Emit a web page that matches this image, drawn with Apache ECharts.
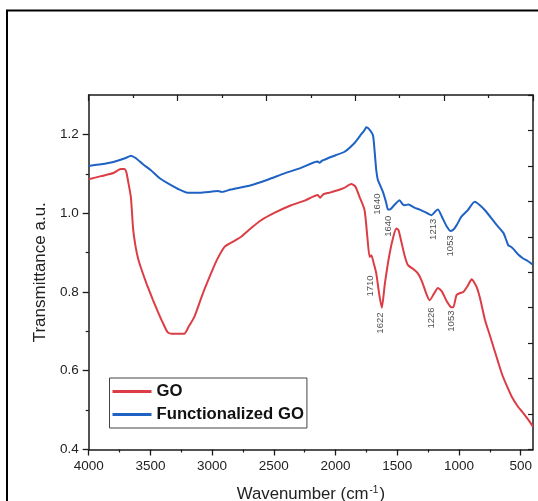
<!DOCTYPE html>
<html>
<head>
<meta charset="utf-8">
<script src="https://cdn.jsdelivr.net/npm/echarts@6/dist/echarts.min.js"></script>
<style>
html,body{margin:0;padding:0;background:#fff;}
#c{width:538px;height:501px;}
</style>
</head>
<body>
<div id="c"></div>
<script>
// ---- data ----
const goWavenumber = [4000,3900,3800,3740,3712,3695,3680,3658,3640,3620,3600,3570,3530,3480,3440,3400,3361,3330,3226,3190,3145,3080,3009,2960,2901,2830,2765,2700,2603,2500,2360,2250,2144,2125,2100,2050,1981,1930,1873,1840,1805,1765,1740,1724,1710,1690,1670,1645,1625,1600,1562,1530,1507,1490,1470,1440,1413,1370,1333,1300,1260,1237,1200,1170,1140,1100,1067,1046,1020,993,965,930,897,857,830,789,755,721,653,610,572,520,477,430,400];
const goValues     = [1.086,1.094,1.102,1.112,1.112,1.104,1.080,1.040,0.960,0.915,0.885,0.855,0.820,0.780,0.750,0.722,0.698,0.694,0.694,0.712,0.736,0.792,0.847,0.882,0.914,0.928,0.940,0.958,0.982,1.000,1.020,1.032,1.046,1.039,1.048,1.052,1.058,1.064,1.074,1.068,1.041,1.008,0.932,0.889,0.893,0.872,0.847,0.792,0.760,0.822,0.897,0.942,0.961,0.957,0.932,0.892,0.868,0.858,0.847,0.827,0.792,0.779,0.797,0.810,0.802,0.777,0.762,0.761,0.792,0.797,0.800,0.815,0.832,0.813,0.785,0.729,0.695,0.661,0.593,0.560,0.534,0.508,0.492,0.472,0.458];

const fgoWavenumber = [4000,3900,3800,3700,3658,3620,3560,3496,3430,3361,3280,3199,3100,3000,2955,2920,2850,2685,2550,2414,2280,2144,2130,2110,2000,1927,1850,1800,1765,1751,1730,1697,1684,1670,1657,1640,1616,1590,1575,1555,1520,1481,1460,1440,1410,1360,1318,1270,1223,1190,1170,1140,1100,1067,1040,1020,980,930,872,830,777,700,640,615,600,585,561,520,480,440,405];
const fgoValues     = [1.120,1.124,1.130,1.140,1.146,1.140,1.124,1.109,1.090,1.076,1.062,1.052,1.052,1.055,1.056,1.054,1.060,1.071,1.085,1.101,1.115,1.131,1.128,1.133,1.147,1.156,1.177,1.197,1.211,1.218,1.214,1.198,1.160,1.109,1.084,1.072,1.054,1.027,1.009,1.010,1.022,1.033,1.024,1.020,1.022,1.014,1.009,1.002,0.995,1.005,1.009,0.992,0.967,0.955,0.960,0.969,0.991,1.007,1.029,1.020,1.003,0.972,0.950,0.930,0.918,0.916,0.910,0.895,0.885,0.878,0.870];

const annotationText = ['1640','1640','1213','1053','1710','1622','1226','1053'];
const annotationWavenumber = [1664,1569,1208,1067,1718,1637,1224,1059];
const annotationValue = [1.023,0.967,0.959,0.917,0.815,0.721,0.734,0.726];

const xTickValues = [500,1000,1500,2000,2500,3000,3500,4000];
const xMinorTickValues = [750,1250,1750,2250,2750,3250,3750];
const yTickValues = [0.4,0.6,0.8,1.0,1.2];
const yMinorTickValues = [0.5,0.7,0.9,1.1];

const seriesNames = ['GO','Functionalized GO'];
const seriesColors = ['#dc3d45','#1e62c3'];

// ---- build ----
const zip = (a,b) => a.map((v,i)=>[v,b[i]]);
const FONT = '"Liberation Sans", Arial, sans-serif';
const axisColor = '#1a1a1a';

const chart = echarts.init(document.getElementById('c'), null, {renderer:'canvas'});

const option = {
  backgroundColor: '#fff',
  animation: false,
  textStyle: {fontFamily: FONT},
  graphic: [{
    type: 'rect',
    shape: {x: 7, y: 10.5, width: 700, height: 700},
    style: {fill: 'none', stroke: '#000', lineWidth: 2},
    silent: true,
    z: 100
  }],
  grid: {left: 88.7, top: 95, right: 5, bottom: 51.5, containLabel: false, outerBoundsMode: 'none'},
  legend: {
    data: seriesNames,
    orient: 'vertical',
    left: 109.5,
    top: 378,
    padding: [5, 3, 5, 3],
    itemWidth: 39,
    itemHeight: 3,
    itemGap: 6,
    icon: 'rect',
    borderColor: '#444',
    borderWidth: 1,
    backgroundColor: '#fff',
    textStyle: {fontFamily: FONT, fontSize: 16.7, fontWeight: 'bold', color: '#111', lineHeight: 16}
  },
  xAxis: [
    {
      type: 'value', min: 400, max: 4000, inverse: true, position: 'bottom',
      axisLine: {show: true, onZero: false, lineStyle: {color: axisColor, width: 1.5}},
      axisTick: {show: true, inside: false, length: 6, customValues: xTickValues, lineStyle: {color: axisColor, width: 1.3}},
      axisLabel: {show: true, customValues: xTickValues, margin: 10, fontSize: 13.5, color: '#222', fontFamily: FONT,
        formatter: v => String(Math.round(v))},
      splitLine: {show: false},
      name: 'Wavenumber (cm{sup|-1})',
      nameLocation: 'middle',
      nameGap: 36,
      nameTextStyle: {fontSize: 16.8, color: '#222', fontFamily: FONT,
        rich: {sup: {fontSize: 10, verticalAlign: 'top', color: '#222', fontFamily: FONT, padding: [0,1,0,1]}}}
    },
    {
      type: 'value', min: 400, max: 4000, inverse: true, position: 'bottom',
      axisLine: {show: false, onZero: false},
      axisTick: {show: true, inside: false, length: 3, customValues: xMinorTickValues, lineStyle: {color: axisColor, width: 1.2}},
      axisLabel: {show: false},
      splitLine: {show: false}
    },
    {
      type: 'value', min: 0, max: 10, interval: 2, position: 'top',
      axisLine: {show: true, onZero: false, lineStyle: {color: axisColor, width: 1.5}},
      axisTick: {show: true, inside: true, length: 6, lineStyle: {color: axisColor, width: 1.2}},
      minorTick: {show: true, splitNumber: 2, length: 3, lineStyle: {color: axisColor, width: 1.2}},
      axisLabel: {show: false},
      splitLine: {show: false}
    }
  ],
  yAxis: [
    {
      type: 'value', min: 0.4, max: 1.3, position: 'left',
      axisLine: {show: true, onZero: false, lineStyle: {color: axisColor, width: 1.5}},
      axisTick: {show: true, inside: false, length: 6, customValues: yTickValues, lineStyle: {color: axisColor, width: 1.3}},
      axisLabel: {show: true, customValues: yTickValues, margin: 10, fontSize: 13.5, color: '#222', fontFamily: FONT,
        formatter: v => v.toFixed(1)},
      splitLine: {show: false},
      name: 'Transmittance a.u.',
      nameLocation: 'middle',
      nameGap: 40,
      nameTextStyle: {fontSize: 17, color: '#222', fontFamily: FONT}
    },
    {
      type: 'value', min: 0.4, max: 1.3, position: 'left',
      axisLine: {show: false, onZero: false},
      axisTick: {show: true, inside: false, length: 3, customValues: yMinorTickValues, lineStyle: {color: axisColor, width: 1.2}},
      axisLabel: {show: false},
      splitLine: {show: false}
    },
    {
      type: 'value', min: 0, max: 10, interval: 1, position: 'right',
      axisLine: {show: true, onZero: false, lineStyle: {color: axisColor, width: 1.5}},
      axisTick: {show: true, inside: true, length: 5, lineStyle: {color: axisColor, width: 1.2}},
      axisLabel: {show: false},
      splitLine: {show: false}
    }
  ],
  series: [
    {
      name: seriesNames[0], type: 'line', xAxisIndex: 0, yAxisIndex: 0,
      data: zip(goWavenumber, goValues),
      showSymbol: false, symbol: 'none', smooth: 0.2,
      lineStyle: {color: seriesColors[0], width: 2},
      itemStyle: {color: seriesColors[0]},
      z: 3
    },
    {
      name: seriesNames[1], type: 'line', xAxisIndex: 0, yAxisIndex: 0,
      data: zip(fgoWavenumber, fgoValues),
      showSymbol: false, symbol: 'none', smooth: 0.2,
      lineStyle: {color: seriesColors[1], width: 2},
      itemStyle: {color: seriesColors[1]},
      z: 3
    },
    {
      name: 'annotations', type: 'scatter', xAxisIndex: 0, yAxisIndex: 0,
      silent: true,
      symbolSize: 0.1,
      itemStyle: {color: 'rgba(0,0,0,0)'},
      data: annotationText.map((t,i)=>({value:[annotationWavenumber[i], annotationValue[i]], name: t})),
      label: {show: true, position: 'inside', rotate: 90, formatter: p => p.name,
        fontSize: 9.5, color: '#222', fontFamily: FONT},
      z: 4
    }
  ]
};
chart.setOption(option);
</script>
</body>
</html>
